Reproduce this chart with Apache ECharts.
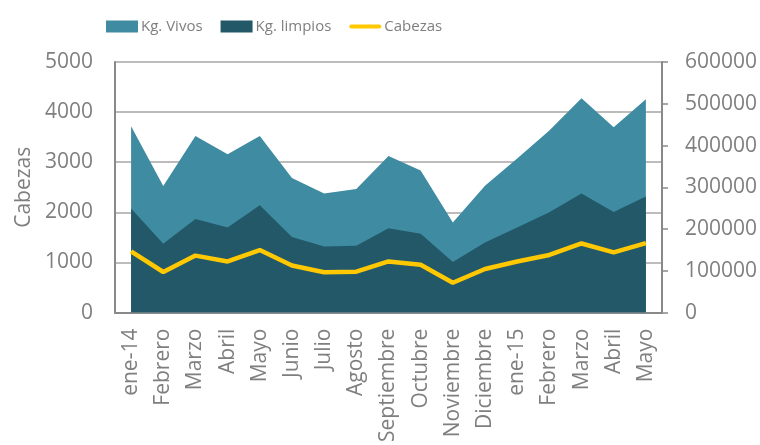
<!DOCTYPE html>
<html>
<head>
<meta charset="utf-8">
<script src="https://cdn.jsdelivr.net/npm/echarts@6/dist/echarts.min.js"></script>
<style>
  html, body { margin: 0; padding: 0; background: #fff; }
  #chart { width: 760px; height: 445px; }
</style>
</head>
<body>
<div id="chart"></div>
<script>
const meses = ['ene-14', 'Febrero', 'Marzo', 'Abril', 'Mayo', 'Junio', 'Julio', 'Agosto', 'Septiembre',
  'Octubre', 'Noviembre', 'Diciembre', 'ene-15', 'Febrero', 'Marzo', 'Abril', 'Mayo'];
// kilos (eje derecho)
const kgVivos = [446000, 303000, 423000, 379000, 423000, 322000, 285000, 296000, 375000,
  340000, 216000, 304000, 369000, 436000, 513000, 444000, 511000];
const kgLimpios = [249000, 165000, 224000, 204000, 257000, 181000, 158000, 160000, 202000,
  189000, 121000, 168000, 204000, 240000, 285000, 241000, 278000];
// cabezas (eje izquierdo)
const cabezas = [1220, 810, 1137, 1020, 1248, 941, 804, 817, 1020,
  954, 595, 869, 1020, 1150, 1379, 1203, 1386];

const gris = '#7f7f7f';
const fuente = '"Open Sans", sans-serif';
const sinComas = v => String(v);

const chart = echarts.init(document.getElementById('chart'));
chart.setOption({
  animation: false,
  textStyle: { fontFamily: fuente },
  legend: {
    top: 14,
    left: 101,
    itemWidth: 32,
    itemHeight: 12,
    itemGap: 18,
    textStyle: { color: gris, fontSize: 15, padding: [0, 0, 0, -2] },
    data: [
      { name: 'Kg. Vivos', icon: 'rect' },
      { name: 'Kg. limpios', icon: 'rect' },
      { name: 'Cabezas', icon: 'path://M2,0 L30,0 A2,2 0 0 1 30,4 L2,4 A2,2 0 0 1 2,0 Z' }
    ]
  },
  grid: { left: 115, right: 97, top: 62, bottom: 128 },
  xAxis: {
    type: 'category',
    data: meses,
    boundaryGap: true,
    axisLine: { lineStyle: { color: '#898989', width: 2 } },
    axisTick: { show: false },
    axisLabel: { color: gris, fontSize: 21, rotate: 90, margin: 16, interval: 0 }
  },
  yAxis: [{
    type: 'value',
    name: 'Cabezas',
    nameLocation: 'middle',
    nameGap: 76,
    nameTextStyle: { color: gris, fontSize: 21 },
    min: 0,
    max: 5000,
    interval: 1000,
    axisLine: { show: true, lineStyle: { color: '#898989', width: 2 } },
    axisTick: { show: false },
    axisLabel: { color: gris, fontSize: 21, margin: 22, formatter: sinComas },
    splitLine: { lineStyle: { color: '#a6a6a6', width: 1.5 } }
  }, {
    type: 'value',
    min: 0,
    max: 600000,
    interval: 100000,
    position: 'right',
    axisLine: { show: true, lineStyle: { color: '#898989', width: 2 } },
    axisTick: { show: true, length: 6, lineStyle: { color: '#898989', width: 1.5 } },
    axisLabel: { color: gris, fontSize: 21, margin: 23, formatter: sinComas },
    splitLine: { show: false }
  }],
  series: [{
    name: 'Kg. Vivos',
    type: 'line',
    yAxisIndex: 1,
    data: kgVivos,
    symbol: 'none',
    lineStyle: { width: 0 },
    itemStyle: { color: '#3e8ba2' },
    areaStyle: { color: '#3e8ba2', opacity: 1 }
  }, {
    name: 'Kg. limpios',
    type: 'line',
    yAxisIndex: 1,
    data: kgLimpios,
    symbol: 'none',
    lineStyle: { width: 0 },
    itemStyle: { color: '#225868' },
    areaStyle: { color: '#225868', opacity: 1 }
  }, {
    name: 'Cabezas',
    type: 'line',
    yAxisIndex: 0,
    data: cabezas,
    symbol: 'none',
    itemStyle: { color: '#ffc800' },
    lineStyle: { color: '#ffc800', width: 4.5 }
  }]
});
</script>
</body>
</html>
